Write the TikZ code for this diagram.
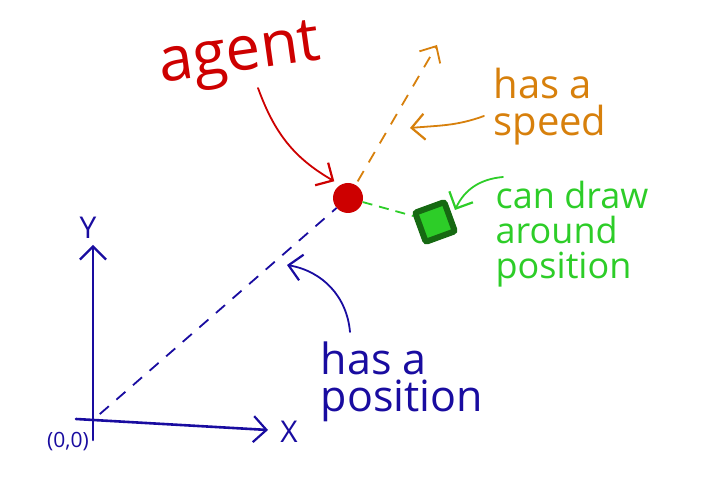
\documentclass[tikz,border=0pt]{standalone}
\usepackage{fontspec}
\setmainfont{Open Sans}
\usepackage{tikz}
\usetikzlibrary{arrows.meta, positioning}

\definecolor{penblue}{RGB}{25,12,160}
\definecolor{penred}{RGB}{205,0,0}
\definecolor{penorange}{RGB}{215,128,12}
\definecolor{pengreen}{RGB}{45,205,40}
\definecolor{pendkgreen}{RGB}{22,105,18}

\begin{document}
\begin{tikzpicture}[
  x=1pt, y=1pt,
  barb/.style={-{Straight Barb[length=13pt, width=26pt, line width=2.2pt]}},
  axis/.style={barb, draw=penblue, line width=2.6pt, line cap=round},
  trail/.style={dashed, dash pattern=on 12pt off 10pt, line width=1.8pt},
  pointer/.style={barb, line width=1.8pt, line cap=round},
  scribble/.style={font=\fontsize{40}{37}\selectfont, align=left, inner sep=0pt},
  axlabel/.style={font=\fontsize{30}{30}\selectfont, inner sep=0pt, text=penblue},
  dot/.style={circle, fill=penred, minimum size=30pt, inner sep=0pt},
  marker/.style={rectangle, fill=pengreen, draw=pendkgreen, line width=6pt, rounded corners=2pt, minimum size=31pt, inner sep=0pt}
]
\useasboundingbox (0,0) rectangle (704,478);

% axes
\coordinate (o) at (93,58);
\coordinate (xstart) at (76,59);
\coordinate (ybottom) at (93,38);
\coordinate (ytip) at (93,233);
\coordinate (xtip) at (268,48);
\draw[axis] (ybottom) -- (ytip);
\draw[axis] (xstart) -- (xtip);
\node[axlabel] (ylab) at (88,250) {Y};
\node[axlabel] (xlab) at (289,46) {X};
\node[axlabel, font=\fontsize{21}{21}\selectfont] (zero) at (68,36) {(0,0)};

% the agent
\node[dot] (agent) at (348,280) {};
\node[marker, rotate=20] (box) at (435,256) {};
\coordinate (speedtip) at (437,433);
\draw[trail, penblue, shorten <=9pt] (o) -- (agent);
\draw[trail, penorange, shorten <=4pt, -{Straight Barb[length=13pt, width=24pt, line width=1.8pt]}] (agent) -- (speedtip);
\draw[trail, pengreen, dash pattern=on 10pt off 7pt] (agent) -- (box);

% notes
\node[scribble, text=penred, rotate=8, font=\fontsize{62}{62}\selectfont] (agentlab) at (240,420) {agent};
\node[scribble, text=penorange] (speedlab) at (550,371) {has a\\speed};
\node[scribble, text=pengreen, font=\fontsize{36}{35}\selectfont] (drawlab) at (572,244) {can draw\\around\\position};
\node[scribble, text=penblue, font=\fontsize{43}{37}\selectfont] (poslab) at (402,96) {has a\\position};

\coordinate (redstart) at (258,390);
\coordinate (speedstart) at (484,362);
\coordinate (speedend) at (410,350);
\coordinate (greenstart) at (503,301);
\coordinate (greenend) at (455,268);
\coordinate (bluestart) at (350,146);
\coordinate (blueend) at (287,213);
\draw[pointer, penred] (redstart) to[out=-70, in=150] ([xshift=-3pt, yshift=6pt]agent.north west);
\draw[pointer, penorange] (speedstart) to[out=200, in=5] (speedend);
\draw[pointer, pengreen] (greenstart) to[out=185, in=65] (greenend);
\draw[pointer, penblue] (bluestart) to[out=95, in=-10] (blueend);
\end{tikzpicture}
\end{document}
